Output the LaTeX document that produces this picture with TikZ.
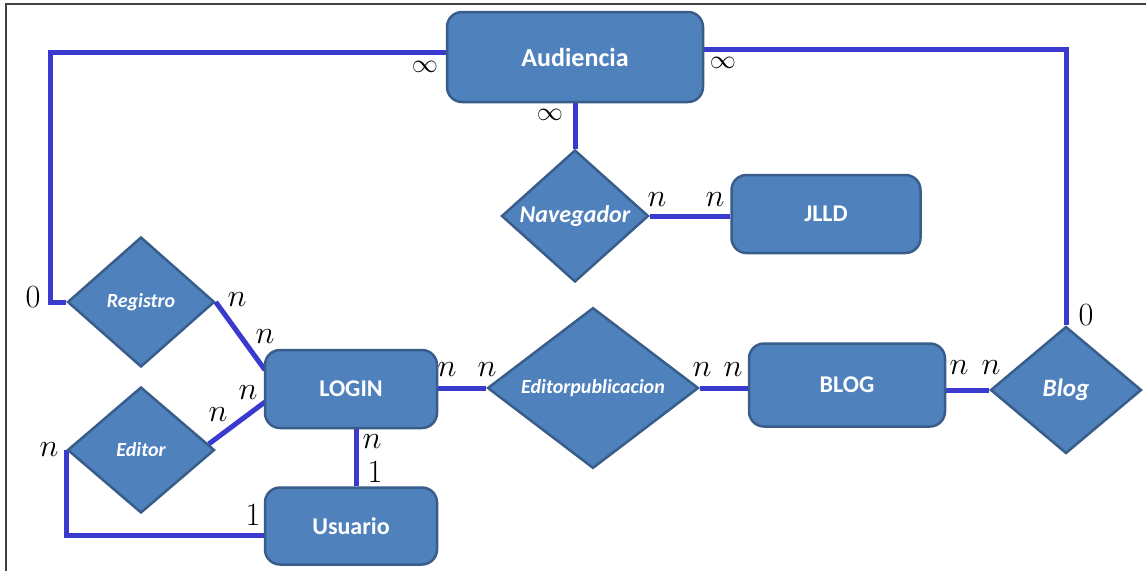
\documentclass[tikz,border=0pt]{standalone}
\usepackage{graphicx}
\usepackage{fontspec}
\newfontfamily\carl{Carlito}
\usetikzlibrary{shapes.geometric,backgrounds}
\definecolor{efill}{HTML}{4F81BD}
\definecolor{edraw}{HTML}{385D8A}
\definecolor{conncol}{RGB}{58,58,206}
\definecolor{framecol}{HTML}{404040}
\newcommand{\cardtxt}[1]{\scalebox{1.3}{\Huge$#1$}}
\newcommand{\inftxt}[1]{\scalebox{1.05}{\Huge$#1$}}
\tikzset{
  entity/.style={draw=edraw, line width=2.5pt, fill=efill, rounded corners=15pt,
    text=white, font=\carl\bfseries\fontsize{24}{28}\selectfont, inner sep=0pt},
  relation/.style={draw=edraw, line width=2.5pt, fill=efill, shape=diamond,
    text=white, font=\carl\bfseries\itshape\fontsize{20}{24}\selectfont, inner sep=0pt},
  conn/.style={draw=conncol, line width=5pt},
  card/.style={inner sep=0pt}
}
\begin{document}
\begin{tikzpicture}[x=1pt,y=-1pt]
\useasboundingbox (0,0) rectangle (1146,571);
\draw[framecol, line width=2pt] (6,571) -- (6,4) -- (1146,4);

\coordinate (c1) at (50,52);
\coordinate (c2) at (50,302);
\coordinate (c3) at (1066,49);
\coordinate (c4) at (68,535);
\coordinate (lp1) at (265,370);
\coordinate (lp2) at (265,402);

% nodes
\node[entity, minimum width=256pt, minimum height=90pt, font=\carl\bfseries\fontsize{26}{30}\selectfont] (aud) at (575,57) {Audiencia};
\node[relation, minimum width=147pt, minimum height=132pt, font=\carl\bfseries\itshape\fontsize{24}{28}\selectfont] (nav) at (575,216) {Navegador};
\node[entity, minimum width=189pt, minimum height=78pt] (jlld) at (826,214) {JLLD};
\node[relation, minimum width=147pt, minimum height=130pt] (reg) at (141,302) {Registro};
\node[relation, minimum width=147pt, minimum height=126pt] (edi) at (141,450) {Editor};
\node[entity, minimum width=172pt, minimum height=78pt] (login) at (351,389) {LOGIN};
\node[entity, minimum width=172pt, minimum height=77pt] (usu) at (351,526) {Usuario};
\node[relation, minimum width=211pt, minimum height=127pt] (ep) at (593,388) {Editorpublicacion};
\node[entity, minimum width=196pt, minimum height=83pt] (blog) at (847,385) {BLOG};
\node[relation, minimum width=151pt, minimum height=127pt, font=\carl\bfseries\itshape\fontsize{25}{28}\selectfont] (blogr) at (1066,390) {Blog};

\begin{scope}[on background layer]
\draw[conn] (aud.west |- c1) -- (c1) -- (c2) -- (reg.west);
\draw[conn] (aud.east |- c3) -- (c3) -- (blogr.north);
\draw[conn] (aud.south) -- (nav.north);
\draw[conn] (nav.east) -- (nav.east -| jlld.west);
\draw[conn] (reg.east) -- (lp1);
\draw[conn] ([xshift=-7pt,yshift=6pt]edi.east) -- (lp2);
\draw[conn] (edi.west) -- (edi.west |- c4) -- (c4 -| usu.west);
\draw[conn] ([xshift=5pt]login.south) -- ([xshift=5pt]login.south |- usu.north);
\draw[conn] (ep.west -| login.east) -- (ep.west);
\draw[conn] (ep.east) -- (ep.east -| blog.west);
\draw[conn] (blogr.west -| blog.east) -- (blogr.west);
\end{scope}

% cardinalities
\node[card] (i1) at (425,67) {\inftxt{\infty}};
\node[card] (i2) at (723,63) {\inftxt{\infty}};
\node[card] (i3) at (550,115) {\inftxt{\infty}};
\node[card] (k1) at (657,200) {\cardtxt{n}};
\node[card] (k2) at (715,200) {\cardtxt{n}};
\node[card] (k3) at (33,297) {\cardtxt{0}};
\node[card] (k4) at (237,300) {\cardtxt{n}};
\node[card] (k5) at (265,337) {\cardtxt{n}};
\node[card] (k6) at (218,415) {\cardtxt{n}};
\node[card] (k7) at (248,393) {\cardtxt{n}};
\node[card] (k8) at (49,450) {\cardtxt{n}};
\node[card] (k9) at (372,442) {\cardtxt{n}};
\node[card] (k10) at (375,472) {\cardtxt{1}};
\node[card] (k11) at (253,515) {\cardtxt{1}};
\node[card] (k12) at (447,370) {\cardtxt{n}};
\node[card] (k13) at (487,370) {\cardtxt{n}};
\node[card] (k14) at (702,370) {\cardtxt{n}};
\node[card] (k15) at (733,370) {\cardtxt{n}};
\node[card] (k16) at (959,368) {\cardtxt{n}};
\node[card] (k17) at (991,368) {\cardtxt{n}};
\node[card] (k18) at (1086,315) {\cardtxt{0}};
\end{tikzpicture}
\end{document}
